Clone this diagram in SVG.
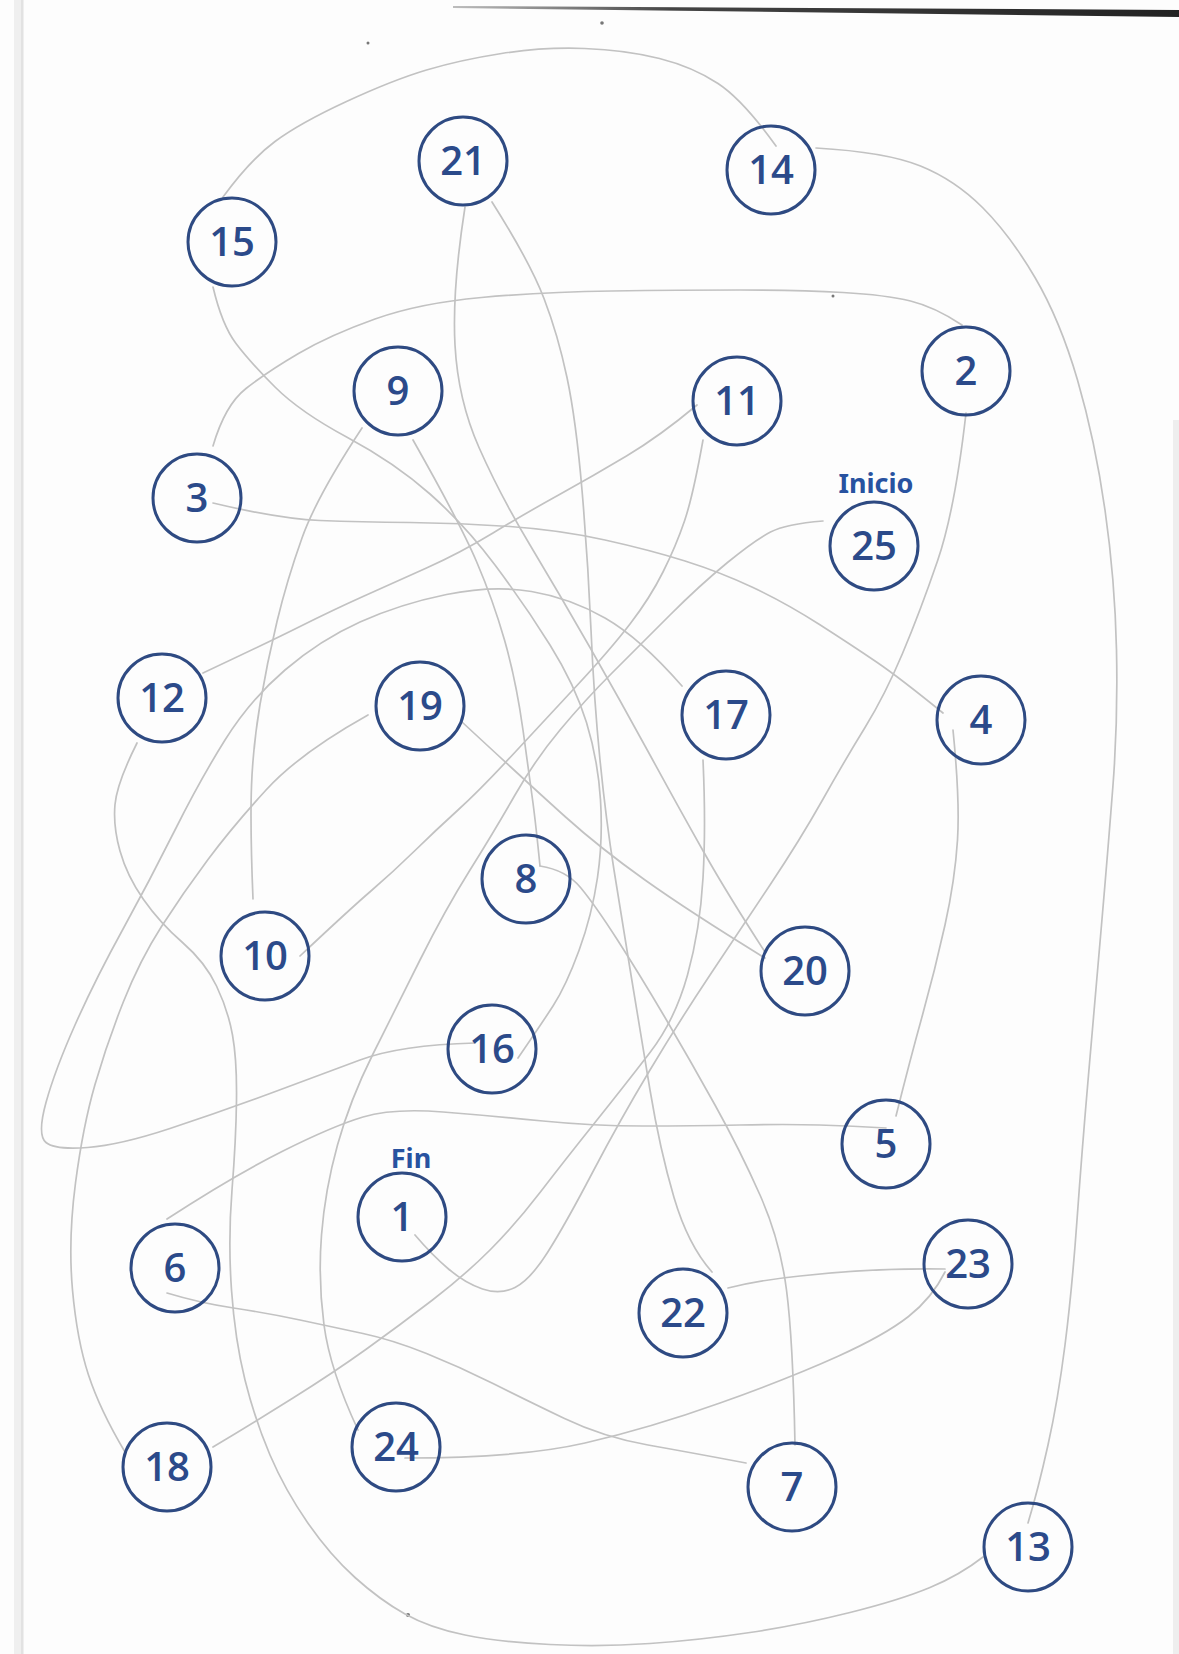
<svg xmlns="http://www.w3.org/2000/svg" width="1179" height="1654" viewBox="0 0 1179 1654">
<style>
.node circle{fill:none;stroke:#2e4a82;stroke-width:3}
.node text{font-family:"Open Sans","Noto Sans",sans-serif;font-size:40px;font-weight:600;fill:#2b4a8a;text-anchor:middle}
.node text.lbl{font-family:"Noto Sans","Open Sans",sans-serif;font-size:27px;font-weight:700;fill:#2852a0;text-anchor:middle}
#connectors path{fill:none;stroke:#c2c2c2;stroke-width:1.7;stroke-linecap:round;stroke-linejoin:round}
.speck{fill:#777}
</style>
<defs>
<linearGradient id="edge" x1="0" y1="0" x2="1" y2="0">
<stop offset="0" stop-color="#bdbdbd"/>
<stop offset="0.3" stop-color="#444"/>
<stop offset="1" stop-color="#222"/>
</linearGradient>
</defs>
<rect width="1179" height="1654" fill="#fdfdfd"/>
<rect x="14" y="0" width="10" height="1654" fill="#efefef"/>
<rect x="21" y="0" width="2" height="1654" fill="#e2e2e2"/>
<rect x="1173" y="420" width="6" height="1234" fill="#eeeeee"/>
<polygon points="453,6 1179,10 1179,17 453,8" fill="url(#edge)"/>
<g id="specks">
<circle class="speck" cx="368" cy="43" r="1.5"/>
<circle class="speck" cx="602" cy="23" r="1.8"/>
<circle class="speck" cx="833" cy="296" r="1.5"/>
<circle class="speck" cx="408" cy="1615" r="2"/>
</g>
<g id="connectors">
<path id="c25-24" d="M823,521 Q786,524 770.5,532 Q755,540 727.5,562.5 Q700,585 670,615 Q640,645 612.5,672.5 Q585,700 560,730 Q535,760 515,795 Q495,830 470,870 Q445,910 420,960 Q395,1010 372.5,1055 Q350,1100 337.5,1145 Q325,1190 321.5,1235 Q318,1280 324,1325 Q330,1370 358,1430"/>
<path id="c24-23" d="M405,1458 Q520,1458 585,1443 Q650,1428 720,1403 Q790,1378 837.5,1356.5 Q885,1335 908.5,1316.5 Q932,1298 945,1272"/>
<path id="c23-22" d="M945,1269 Q870,1268 800,1276 Q760,1280 728,1288"/>
<path id="c22-21" d="M712,1272 Q688,1245 674,1197.5 Q660,1150 650,1090 Q640,1030 631,975 Q622,920 614,870 Q606,820 600,760 Q594,700 591,630 Q588,560 582,490 Q576,420 567,377.5 Q558,335 544,298.5 Q530,262 492,202"/>
<path id="c21-20" d="M465,207 Q452,290 455,345 Q458,400 479,447.5 Q500,495 530,545 Q560,595 590,647.5 Q620,700 650,755 Q680,810 704,852.5 Q728,895 765,952"/>
<path id="c20-19" d="M765,958 Q690,912 645,880 Q600,848 565,816.5 Q530,785 462,722"/>
<path id="c19-18" d="M368,715 Q300,753 266.5,789.5 Q233,826 208,859.5 Q183,893 161.5,926.5 Q140,960 123.5,1001.5 Q107,1043 95,1084.5 Q83,1126 75.5,1183 Q68,1240 72.5,1290 Q77,1340 88.5,1375 Q100,1410 125,1452"/>
<path id="c18-17" d="M213,1447 Q253,1423 293,1398 Q333,1373 366.5,1349 Q400,1325 432.5,1300 Q465,1275 490,1250 Q515,1225 540,1192.5 Q565,1160 595,1122.5 Q625,1085 650,1052.5 Q675,1020 687.5,975 Q700,930 703,878 Q706,826 703,760"/>
<path id="c17-16" d="M682,686 Q640,638 605,618 Q570,598 531.5,591.5 Q493,585 446.5,594.5 Q400,604 360,622 Q320,640 285,670 Q250,700 225,740 Q200,780 175,830 Q150,880 122.5,930 Q95,980 75,1025 Q55,1070 46,1102.5 Q37,1135 46,1142.5 Q55,1150 87.5,1147.5 Q120,1145 170,1128.5 Q220,1112 270,1093.5 Q320,1075 360,1060 Q400,1045 475,1043"/>
<path id="c16-15" d="M518,1058 Q540,1026 553,1006 Q566,986 579,950.5 Q592,915 597.5,877.5 Q603,840 600.5,800 Q598,760 586.5,722.5 Q575,685 550,645 Q525,605 495,565 Q465,525 430,494 Q395,463 347.5,437.5 Q300,412 275,387 Q250,362 236,343.5 Q222,325 213,287"/>
<path id="c15-14" d="M223,197 Q250,160 275,141.5 Q300,123 346.5,101.5 Q393,80 426.5,70 Q460,60 501.5,53.5 Q543,47 584.5,48.5 Q626,50 659.5,58.5 Q693,67 718,83.5 Q743,100 776,146"/>
<path id="c14-13" d="M816,148 Q886,152 920.5,166 Q955,180 982.5,207.5 Q1010,235 1035,277.5 Q1060,320 1077.5,380 Q1095,440 1105,510 Q1115,580 1116.5,650 Q1118,720 1113,785 Q1108,850 1101.5,925 Q1095,1000 1088.5,1075 Q1082,1150 1077,1220 Q1072,1290 1065,1345 Q1058,1400 1048,1445 Q1038,1490 1028,1523"/>
<path id="c13-12" d="M983,1557 Q960,1575 930,1587.5 Q900,1600 850,1612.5 Q800,1625 750,1632.5 Q700,1640 650,1643.5 Q600,1647 550,1644.5 Q500,1642 465,1635 Q430,1628 405,1614 Q380,1600 355,1577.5 Q330,1555 307.5,1522.5 Q285,1490 270,1455 Q255,1420 245,1380 Q235,1340 231.5,1290 Q228,1240 232,1190 Q236,1140 236.5,1100 Q237,1060 232.5,1035 Q228,1010 216.5,986 Q205,962 182.5,942.5 Q160,923 143.5,899.5 Q127,876 120,851 Q113,826 115,804.5 Q117,783 137,743"/>
<path id="c12-11" d="M203,673 Q267,643 300,626.5 Q333,610 363,596.5 Q393,583 426.5,568 Q460,553 493,533 Q526,513 559.5,494.5 Q593,476 626.5,456 Q660,436 697,405"/>
<path id="c11-10" d="M703,440 Q693,496 684.5,521 Q676,546 663,572 Q650,598 630,624 Q610,650 576.5,686 Q543,722 511.5,756 Q480,790 458,810 Q436,830 414.5,851 Q393,872 371.5,890.5 Q350,909 300,956"/>
<path id="c10-9" d="M253,899 Q250,826 251.5,786 Q253,746 260,704.5 Q267,663 277,621.5 Q287,580 302,538 Q317,496 362,428"/>
<path id="c9-8" d="M413,440 Q460,523 476.5,561.5 Q493,600 504.5,640 Q516,680 523,730 Q530,780 533,803 Q536,826 540,866"/>
<path id="c8-7" d="M540,866 Q566,870 580.5,887.5 Q595,905 617.5,940 Q640,975 665,1017.5 Q690,1060 715,1105 Q740,1150 760,1195 Q780,1240 786.5,1290 Q793,1340 795,1445"/>
<path id="c7-6" d="M746,1463 Q693,1453 648,1445 Q603,1437 564.5,1418.5 Q526,1400 493,1383.5 Q460,1367 426.5,1353.5 Q393,1340 363,1333.5 Q333,1327 300,1320 Q267,1313 233.5,1308 Q200,1303 167,1293"/>
<path id="c6-5" d="M167,1219 Q233,1176 283,1151 Q333,1126 363,1117 Q393,1108 443,1112 Q493,1116 543,1121 Q593,1126 643,1126 Q693,1126 739.5,1125 Q786,1124 819.5,1125 Q853,1126 886,1128"/>
<path id="c5-4" d="M896,1116 Q910,1060 922.5,1015 Q935,970 945,925 Q955,880 957.5,840 Q960,800 953,730"/>
<path id="c4-3" d="M943,713 Q900,678 876.5,662 Q853,646 819.5,624.5 Q786,603 753,587.5 Q720,572 685,561 Q650,550 605,540 Q560,530 510,526.5 Q460,523 410,522.5 Q360,522 320,520.5 Q280,519 213,503"/>
<path id="c3-2" d="M213,446 Q225,405 246,388.5 Q267,372 298.5,353.5 Q330,335 375,319 Q420,303 481.5,297.5 Q543,292 611.5,291 Q680,290 740,290 Q800,290 843,292.5 Q886,295 910.5,301 Q935,307 962,325"/>
<path id="c2-1" d="M966,413 Q955,510 937.5,561 Q920,612 902.5,653.5 Q885,695 865,727.5 Q845,760 822.5,800 Q800,840 770,885 Q740,930 710,975 Q680,1020 650,1070 Q620,1120 592.5,1172.5 Q565,1225 547.5,1252.5 Q530,1280 515,1287.5 Q500,1295 482.5,1289 Q465,1283 448.5,1269 Q432,1255 415,1235"/>
</g>
<g id="n1" class="node"><text class="lbl" x="411" y="1168">Fin</text><circle cx="402" cy="1217" r="44"/><text x="402" y="1231">1</text></g>
<g id="n2" class="node"><circle cx="966" cy="371" r="44"/><text x="966" y="385">2</text></g>
<g id="n3" class="node"><circle cx="197" cy="498" r="44"/><text x="197" y="512">3</text></g>
<g id="n4" class="node"><circle cx="981" cy="720" r="44"/><text x="981" y="734">4</text></g>
<g id="n5" class="node"><circle cx="886" cy="1144" r="44"/><text x="886" y="1158">5</text></g>
<g id="n6" class="node"><circle cx="175" cy="1268" r="44"/><text x="175" y="1282">6</text></g>
<g id="n7" class="node"><circle cx="792" cy="1487" r="44"/><text x="792" y="1501">7</text></g>
<g id="n8" class="node"><circle cx="526" cy="879" r="44"/><text x="526" y="893">8</text></g>
<g id="n9" class="node"><circle cx="398" cy="391" r="44"/><text x="398" y="405">9</text></g>
<g id="n10" class="node"><circle cx="265" cy="956" r="44"/><text x="265" y="970">10</text></g>
<g id="n11" class="node"><circle cx="737" cy="401" r="44"/><text x="737" y="415">11</text></g>
<g id="n12" class="node"><circle cx="162" cy="698" r="44"/><text x="162" y="712">12</text></g>
<g id="n13" class="node"><circle cx="1028" cy="1547" r="44"/><text x="1028" y="1561">13</text></g>
<g id="n14" class="node"><circle cx="771" cy="170" r="44"/><text x="771" y="184">14</text></g>
<g id="n15" class="node"><circle cx="232" cy="242" r="44"/><text x="232" y="256">15</text></g>
<g id="n16" class="node"><circle cx="492" cy="1049" r="44"/><text x="492" y="1063">16</text></g>
<g id="n17" class="node"><circle cx="726" cy="715" r="44"/><text x="726" y="729">17</text></g>
<g id="n18" class="node"><circle cx="167" cy="1467" r="44"/><text x="167" y="1481">18</text></g>
<g id="n19" class="node"><circle cx="420" cy="706" r="44"/><text x="420" y="720">19</text></g>
<g id="n20" class="node"><circle cx="805" cy="971" r="44"/><text x="805" y="985">20</text></g>
<g id="n21" class="node"><circle cx="463" cy="161" r="44"/><text x="463" y="175">21</text></g>
<g id="n22" class="node"><circle cx="683" cy="1313" r="44"/><text x="683" y="1327">22</text></g>
<g id="n23" class="node"><circle cx="968" cy="1264" r="44"/><text x="968" y="1278">23</text></g>
<g id="n24" class="node"><circle cx="396" cy="1447" r="44"/><text x="396" y="1461">24</text></g>
<g id="n25" class="node"><text class="lbl" x="876" y="493">Inicio</text><circle cx="874" cy="546" r="44"/><text x="874" y="560">25</text></g>
</svg>
